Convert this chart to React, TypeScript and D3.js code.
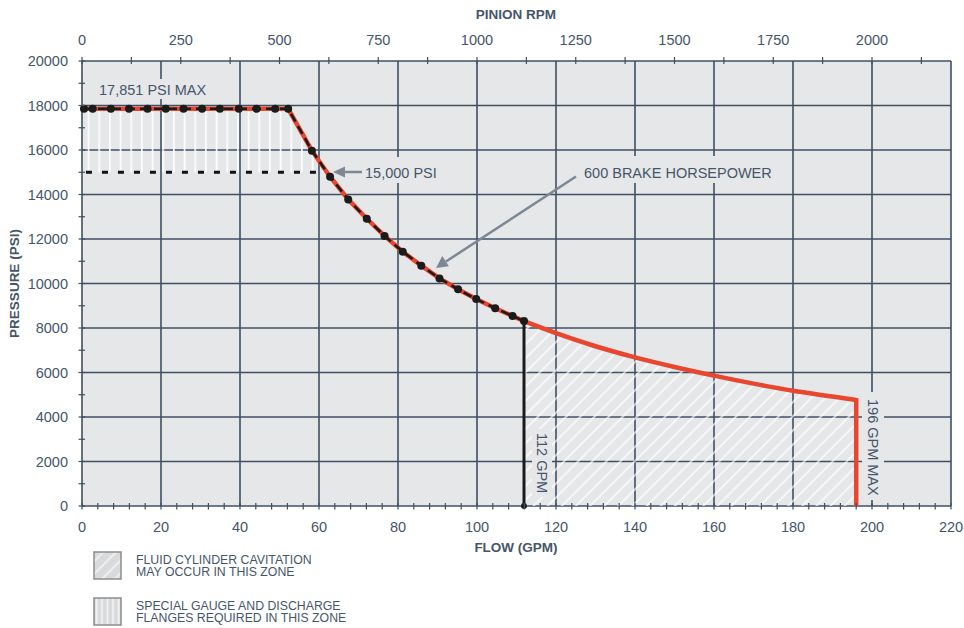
import React from 'react';
import * as d3 from 'd3';

// ---- data ----
const MAX_PSI = 17851;
const GAUGE_PSI = 15000;
const flatFlow = [0.5, 2.7, 7.3, 11.9, 16.6, 21.2, 25.7, 30.4, 34.9, 39.7, 44.2, 48.9, 52.2];
const curveFlow = [58.2, 62.8, 67.4, 72.1, 76.6, 81.2, 85.9, 90.5, 95.2, 99.8, 104.6, 109.0, 111.9];
const curvePsi = [15970, 14800, 13780, 12910, 12140, 11430, 10800, 10230, 9740, 9300, 8890, 8540, 8310];
const extFlow = [111.9, 120, 130, 140, 150, 160, 170, 180, 190, 196];
const extPsi = [8310, 7770, 7180, 6680, 6250, 5860, 5500, 5180, 4920, 4760];
const flowTicks = [0, 20, 40, 60, 80, 100, 120, 140, 160, 180, 200, 220];
const rpmTicks = [0, 250, 500, 750, 1000, 1250, 1500, 1750, 2000];
const psiTicks = [0, 2000, 4000, 6000, 8000, 10000, 12000, 14000, 16000, 18000, 20000];
const legendItems = [
  ['FLUID CYLINDER CAVITATION', 'MAY OCCUR IN THIS ZONE'],
  ['SPECIAL GAUGE AND DISCHARGE', 'FLANGES REQUIRED IN THIS ZONE'],
];

const FONT = '"Liberation Sans", Arial, Helvetica, sans-serif';
const TXT = '#45566a';
const GRID = '#3e5064';
const BG = '#e6e7e9';
const RED = '#e9462f';

export default function App() {
  const x = d3.scaleLinear().domain([0, 220]).range([82, 951]);
  const xr = d3.scaleLinear().domain([0, 2200]).range([82, 951]);
  const y = d3.scaleLinear().domain([0, 20000]).range([506, 61]);

  const blackPts: [number, number][] = [
    ...flatFlow.map((f) => [f, MAX_PSI] as [number, number]),
    ...curveFlow.map((f, i) => [f, curvePsi[i]] as [number, number]),
  ];
  const extPts: [number, number][] = extFlow.map((f, i) => [f, extPsi[i]]);

  const lineLin = d3
    .line<[number, number]>()
    .x((d) => x(d[0]))
    .y((d) => y(d[1]));
  const lineSmooth = d3
    .line<[number, number]>()
    .x((d) => x(d[0]))
    .y((d) => y(d[1]))
    .curve(d3.curveMonotoneX);

  const cavPath = lineSmooth(extPts) + `L${x(196)},${y(0)}L${x(111.9)},${y(0)}Z`;

  // special gauge zone polygon: between 15000 and the curve
  const gaugeCurve = blackPts.filter((d) => d[1] >= 15500);
  const endFlow = 61.5;
  const gaugePath =
    `M${x(0)},${y(GAUGE_PSI)}L${x(0)},${y(MAX_PSI)}` +
    gaugeCurve.map((d) => `L${x(d[0])},${y(d[1])}`).join('') +
    `L${x(endFlow)},${y(GAUGE_PSI)}Z`;

  const minorFlow = d3.range(0, 221, 4);
  const minorRpm = d3.range(0, 2201, 125);
  const minorPsi = d3.range(0, 20001, 1000);

  const labelBg = (xx: number, yy: number, w: number, h: number) => (
    <rect x={xx} y={yy} width={w} height={h} fill={BG} />
  );

  return (
    <svg width={964} height={628} style={{ position: 'absolute', left: 0, top: 0 }} fontFamily={FONT}>
      <defs>
        <pattern id="diag" patternUnits="userSpaceOnUse" width={10} height={10} patternTransform="rotate(45)">
          <line x1={5} y1={0} x2={5} y2={10} stroke="#ffffff" strokeWidth={1.3} />
        </pattern>
        <pattern id="vert" patternUnits="userSpaceOnUse" width={10.67} height={10} x={87.7}>
          <line x1={0.8} y1={0} x2={0.8} y2={10} stroke="#ffffff" strokeWidth={1.6} />
        </pattern>
        <pattern id="diagL" patternUnits="userSpaceOnUse" width={9} height={9} patternTransform="rotate(45)">
          <line x1={4.5} y1={0} x2={4.5} y2={9} stroke="#f4f4f5" strokeWidth={1.6} />
        </pattern>
        <pattern id="vertL" patternUnits="userSpaceOnUse" width={5.5} height={10} x={94}>
          <line x1={2.5} y1={0} x2={2.5} y2={10} stroke="#f4f4f5" strokeWidth={1.6} />
        </pattern>
      </defs>

      {/* plot background */}
      <rect x={x(0)} y={y(20000)} width={x(220) - x(0)} height={y(0) - y(20000)} fill={BG} />

      {/* grid */}
      {flowTicks.map((t) => (
        <line key={'gx' + t} x1={x(t)} x2={x(t)} y1={y(0)} y2={y(20000)} stroke={GRID} strokeWidth={1.6} />
      ))}
      {psiTicks.map((t) => (
        <line key={'gy' + t} x1={x(0)} x2={x(220)} y1={y(t)} y2={y(t)} stroke={GRID} strokeWidth={1.6} />
      ))}

      {/* hatched zones */}
      <path d={cavPath} fill="url(#diag)" />
      <path d={gaugePath} fill="url(#vert)" />

      {/* 15,000 psi dashed line */}
      <line x1={x(1)} x2={x(endFlow)} y1={y(GAUGE_PSI)} y2={y(GAUGE_PSI)} stroke="#111" strokeWidth={3} strokeDasharray="6 10" />

      {/* curves */}
      <path d={lineLin(blackPts) || ''} fill="none" stroke={RED} strokeWidth={4.5} />
      <path d={lineSmooth(extPts) || ''} fill="none" stroke={RED} strokeWidth={4.5} />
      <line x1={x(196)} x2={x(196)} y1={y(extPsi[extPsi.length - 1]) - 2} y2={y(0)} stroke={RED} strokeWidth={4.5} />
      <path d={lineLin(blackPts) || ''} fill="none" stroke="#1b1b1b" strokeWidth={2.6} strokeDasharray="9 5" />
      <line x1={x(111.9)} x2={x(111.9)} y1={y(8310)} y2={y(0)} stroke="#1b1b1b" strokeWidth={3} />
      {blackPts.map((d, i) => (
        <circle key={'d' + i} cx={x(d[0])} cy={y(d[1])} r={4} fill="#1b1b1b" />
      ))}
      <circle cx={x(111.9)} cy={y(0)} r={3} fill="#1b1b1b" />

      {/* annotations */}
      {labelBg(95, 79, 116, 20)}
      <text x={99} y={95} fontSize={14.5} fill={TXT}>17,851 PSI MAX</text>

      {labelBg(362, 157, 78, 26)}
      <text x={365} y={178} fontSize={14.5} fill={TXT}>15,000 PSI</text>
      <line x1={362} x2={343} y1={172} y2={172} stroke="#7d8893" strokeWidth={2.5} />
      <path d="M333,172 L345,166.5 L345,177.5 Z" fill="#7d8893" />

      {labelBg(580, 156, 198, 27)}
      <text x={584} y={178} fontSize={14.5} fill={TXT}>600 BRAKE HORSEPOWER</text>
      <line x1={576} x2={446} y1={176.5} y2={261.5} stroke="#7d8893" strokeWidth={2.5} />
      <path d="M436,268 L442.3,256.1 L448.9,266.2 Z" fill="#7d8893" />

      {labelBg(532, 429, 20, 68)}
      <text transform={`translate(536.5,433) rotate(90)`} fontSize={14.5} fill={TXT}>112 GPM</text>

      {labelBg(862, 392, 22, 108)}
      <text transform={`translate(867.5,399) rotate(90)`} fontSize={14.5} fill={TXT}>196 GPM MAX</text>

      {/* ticks */}
      {minorFlow.map((t) => (
        <line key={'tb' + t} x1={x(t)} x2={x(t)} y1={503} y2={509.5} stroke={GRID} strokeWidth={1.2} />
      ))}
      {minorRpm.map((t) => (
        <line key={'tt' + t} x1={xr(t)} x2={xr(t)} y1={57} y2={64} stroke={GRID} strokeWidth={1.2} />
      ))}
      {minorPsi.map((t) => (
        <line key={'tl' + t} x1={78.5} x2={85} y1={y(t)} y2={y(t)} stroke={GRID} strokeWidth={1.2} />
      ))}

      {/* tick labels */}
      {flowTicks.map((t) => (
        <text key={'lb' + t} x={x(t)} y={532} textAnchor="middle" fontSize={14.5} fill={TXT}>{t}</text>
      ))}
      {rpmTicks.map((t) => (
        <text key={'lt' + t} x={xr(t)} y={45} textAnchor="middle" fontSize={14.5} fill={TXT}>{t}</text>
      ))}
      {psiTicks.map((t) => (
        <text key={'ll' + t} x={68} y={y(t) + 5} textAnchor="end" fontSize={14.5} fill={TXT}>{t}</text>
      ))}

      {/* axis titles */}
      <text x={516} y={19} textAnchor="middle" fontSize={13.5} fontWeight="bold" fill={TXT}>PINION RPM</text>
      <text x={516} y={552} textAnchor="middle" fontSize={13.5} fontWeight="bold" fill={TXT}>FLOW (GPM)</text>
      <text transform={`translate(19,${(y(0) + y(20000)) / 2}) rotate(-90)`} textAnchor="middle" fontSize={13.5} fontWeight="bold" fill={TXT}>PRESSURE (PSI)</text>

      {/* legend */}
      {legendItems.map((lines, i) => {
        const top = 552 + i * 46;
        return (
          <g key={'lg' + i}>
            <rect x={94} y={top} width={27} height={27} fill="#d9dadc" />
            <rect x={94} y={top} width={27} height={27} fill={i === 0 ? 'url(#diagL)' : 'url(#vertL)'} stroke="#8c8d8f" strokeWidth={1.5} />
            <text x={136} y={top + 11.5} fontSize={12.3} fill={TXT}>{lines[0]}</text>
            <text x={136} y={top + 24} fontSize={12.3} fill={TXT}>{lines[1]}</text>
          </g>
        );
      })}
    </svg>
  );
}
